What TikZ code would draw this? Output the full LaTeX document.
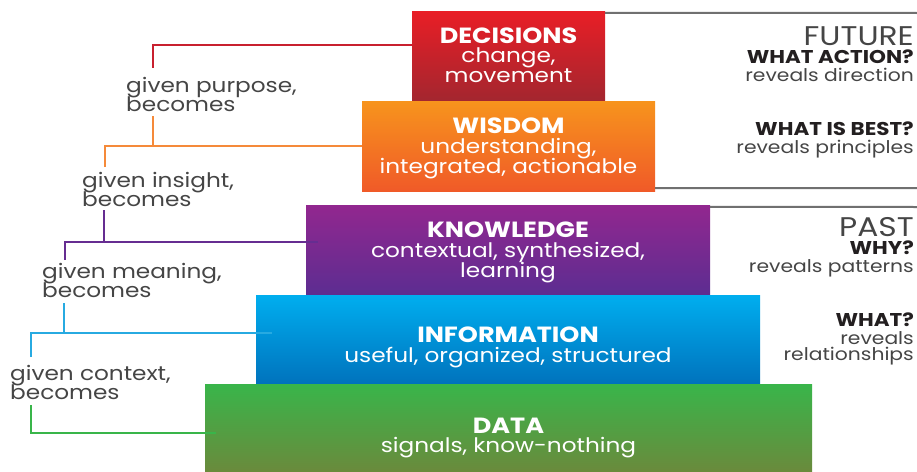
\documentclass[tikz,border=0pt]{standalone}
\usepackage{fontspec}
\setmainfont{Poppins}[FakeStretch=1.16]
\newcommand\tightls{\lineskiplimit-30pt\relax}
\definecolor{redA}{HTML}{E91E26}\definecolor{redB}{HTML}{A3262F}
\definecolor{orA}{HTML}{F7941D}\definecolor{orB}{HTML}{F05A28}
\definecolor{puA}{HTML}{92278F}\definecolor{puB}{HTML}{5C2D91}
\definecolor{cyA}{HTML}{00AEEF}\definecolor{cyB}{HTML}{0072BC}
\definecolor{grA}{HTML}{39B54A}\definecolor{grB}{HTML}{6A8A3C}
\definecolor{lred}{HTML}{C8202F}\definecolor{lor}{HTML}{F58A3A}
\definecolor{lpu}{HTML}{662D91}\definecolor{lcy}{HTML}{27AAE1}
\definecolor{lgr}{HTML}{39B54A}
\definecolor{txt}{HTML}{454545}\definecolor{dark}{HTML}{231F20}
\definecolor{rule}{HTML}{707070}
\begin{document}
\begin{tikzpicture}[x=1pt,y=-1pt,
  box/.style={rectangle,inner sep=0pt,draw=none},
  ttl/.style={anchor=base,inner sep=0pt,text=white,font=\fontsize{22}{20}\selectfont\bfseries},
  sub/.style={anchor=base,inner sep=0pt,text=white,align=center,font=\fontsize{20}{19.5}\selectfont\tightls},
  lbl/.style={anchor=base west,inner sep=0pt,text=txt,align=left,font=\fontsize{20}{19}\selectfont\tightls},
  big/.style={anchor=base east,inner sep=0pt,text=txt,text height=19pt,text depth=0pt,font=\fontsize{27}{27}\selectfont},
  qs/.style={anchor=base east,inner sep=0pt,text=dark,text height=13pt,text depth=0pt,font=\fontsize{18.5}{19}\selectfont\bfseries},
  rv/.style={anchor=base east,inner sep=0pt,text=txt,text height=9pt,text depth=3pt,font=\fontsize{17.5}{15}\selectfont},
  conn/.style={line width=2pt},
  grule/.style={draw=rule,line width=2pt}]
\useasboundingbox (0,0) rectangle (917,471);
% boxes
\node[box,minimum width=193pt,minimum height=90pt,top color=redA,bottom color=redB] (dec) at (508.5,56) {};
\node[box,minimum width=293pt,minimum height=90pt,top color=orA,bottom color=orB] (wis) at (508.5,146) {};
\node[box,minimum width=404pt,minimum height=90pt,top color=puA,bottom color=puB] (kno) at (508,250) {};
\node[box,minimum width=504pt,minimum height=90pt,top color=cyA,bottom color=cyB] (inf) at (508,340) {};
\node[box,minimum width=607pt,minimum height=87pt,top color=grA,bottom color=grB] (dat) at (508.5,428) {};
% box texts
\node[ttl] (dect) at (508.5,43) {DECISIONS};
\node[sub] (decs) at (508.5,82) {change,\\movement};
\node[ttl] (wist) at (508.5,133) {WISDOM};
\node[sub] (wiss) at (508.5,173) {understanding,\\integrated, actionable};
\node[ttl] (knot) at (508,237) {KNOWLEDGE};
\node[sub] (knos) at (508,277) {contextual, synthesized,\\learning};
\node[ttl] (inft) at (508,342) {INFORMATION};
\node[sub] (infs) at (508,362) {useful, organized, structured};
\node[ttl] (datt) at (508.5,433) {DATA};
\node[sub] (dats) at (508.5,452) {signals, know-nothing};
% gray rules
\coordinate (r1) at (917,13);
\coordinate (r2) at (917,188);
\coordinate (r3) at (917,207);
\draw[grule] ([yshift=-2pt]dec.north east) -- (r1);
\draw[grule] ([yshift=3pt]wis.south east) -- (r2);
\draw[grule] ([yshift=-2pt]kno.north east) -- (r3);
% right texts
\node[big] (fut) at (914,45) {FUTURE};
\node[qs] (fq) at (914,63) {WHAT ACTION?};
\node[rv] (fr) at (914,81.5) {reveals direction};
\node[qs] (wq) at (914,135) {WHAT IS BEST?};
\node[rv] (wr) at (914,153) {reveals principles};
\node[big] (past) at (914,236) {PAST};
\node[qs] (kq) at (914,254) {WHY?};
\node[rv] (kr) at (914,272.5) {reveals patterns};
\node[qs] (iq) at (914,326) {WHAT?};
\node[rv] (ir1) at (914,344) {reveals};
\node[rv] (ir2) at (914,360) {relationships};
% left labels
\node[lbl] (l1) at (126,111) {given purpose,\\becomes};
\node[lbl] (l2) at (82,206) {given insight,\\becomes};
\node[lbl] (l3) at (42,297) {given meaning,\\becomes};
\node[lbl] (l4) at (10,399) {given context,\\becomes};
% connectors
\coordinate (a1) at (152.5,68);
\draw[conn,lred] ([yshift=11pt]dec.west) -| (a1);
\coordinate (b1) at (152.5,116);
\coordinate (b2) at (105,167);
\draw[conn,lor] (b1) |- (wis.west);
\draw[conn,lor] (b2) |- (wis.west);
\coordinate (c1) at (104,210);
\coordinate (c2) at (65,260);
\coordinate (ck) at (318,242);
\draw[conn,lpu] (c1) |- (ck);
\draw[conn,lpu] (c2) |- (ck);
\coordinate (d1) at (64,303);
\coordinate (d2) at (31,357);
\coordinate (di) at (272,333);
\draw[conn,lcy] (d1) |- (di);
\draw[conn,lcy] (d2) |- (di);
\coordinate (e1) at (31,405);
\coordinate (ed) at (216,433);
\draw[conn,lgr] (e1) |- (ed);
\end{tikzpicture}
\end{document}
